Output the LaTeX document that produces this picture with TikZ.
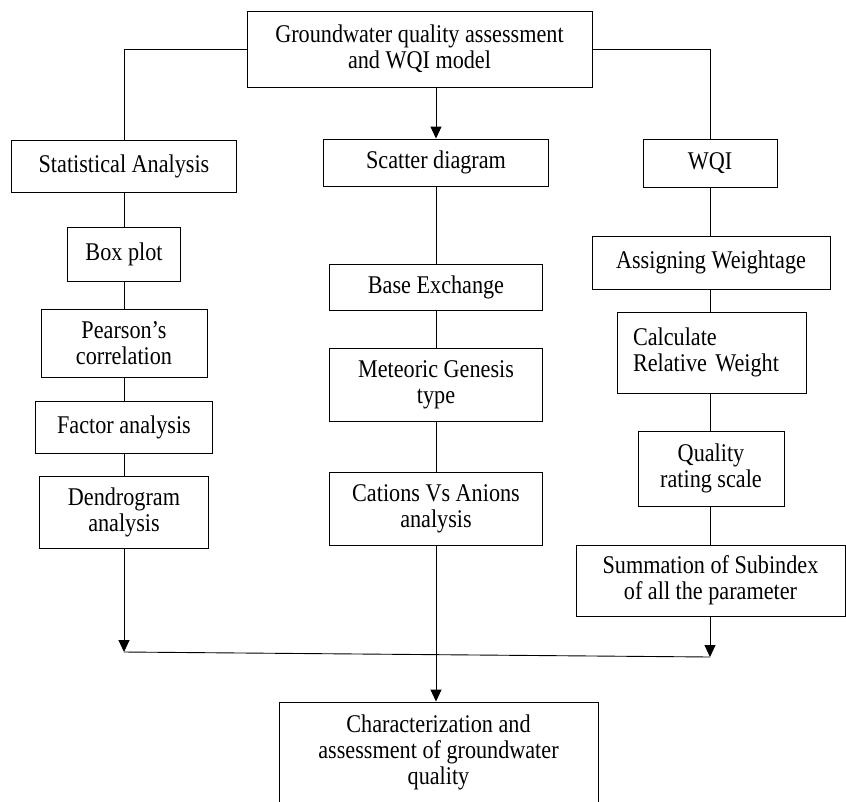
\documentclass[tikz,border=0pt]{standalone}
\usepackage{fontspec}
\setmainfont{Liberation Serif}[FakeStretch=0.87]
\usetikzlibrary{arrows.meta}
\begin{document}
\begin{tikzpicture}[x=1pt,y=-1pt,
  box/.style={draw,line width=0.9pt,inner sep=0pt,align=center,font=\fontsize{25.5}{26}\selectfont},
  conn/.style={line width=0.9pt},
  arr/.style={conn,-{Triangle[length=12pt,width=11pt]}}]
\useasboundingbox (0,0) rectangle (846,801);
\clip (0,0) rectangle (846,801);
% top
\node[box,minimum width=345pt,minimum height=76pt] (top) at (419.5,49) {Groundwater quality assessment\\and WQI model};
% left column
\node[box,minimum width=225pt,minimum height=52pt] (stat) at (124,166) {Statistical Analysis};
\node[box,minimum width=113pt,minimum height=54pt] (boxplot) at (124,254) {Box plot};
\node[box,minimum width=166pt,minimum height=68pt] (pearson) at (124,343) {Pearson’s\\correlation};
\node[box,minimum width=177pt,minimum height=52pt] (factor) at (124,427) {Factor analysis};
\node[box,minimum width=169pt,minimum height=72pt] (dendro) at (124,512) {Dendrogram\\analysis};
% centre column
\node[box,minimum width=225pt,minimum height=47pt] (scatter) at (436,162.5) {Scatter diagram};
\node[box,minimum width=213pt,minimum height=46pt] (base) at (436,287) {Base Exchange};
\node[box,minimum width=213pt,minimum height=73pt] (meteoric) at (436,384.5) {Meteoric Genesis\\type};
\node[box,minimum width=213pt,minimum height=73pt] (cations) at (436,508.5) {Cations Vs Anions\\analysis};
\node[box,minimum width=319pt,minimum height=101pt] (final) at (438.5,752.5) {Characterization and\\assessment of groundwater\\quality};
% right column
\node[box,minimum width=134pt,minimum height=48pt] (wqi) at (710,163) {WQI};
\node[box,minimum width=238pt,minimum height=53pt] (assign) at (711,262.5) {Assigning Weightage};
\node[box,minimum width=189pt,minimum height=81pt,align=left,text width=157pt] (calc) at (711.5,352.5) {Calculate\\Relative Weight};
\node[box,minimum width=146pt,minimum height=75pt] (quality) at (711,468.5) {Quality\\rating scale};
\node[box,minimum width=269pt,minimum height=71pt] (summ) at (710.5,580.5) {Summation of Subindex\\of all the parameter};
% connectors from top
\draw[conn] (top.west) -| (stat.north);
\draw[conn] (top.east) -| (wqi.north);
\draw[arr] (scatter.north |- top.south) -- (scatter.north);
% left chain
\draw[conn] (stat.south) -- (boxplot.north);
\draw[conn] (boxplot.south) -- (pearson.north);
\draw[conn] (pearson.south) -- (factor.north);
\draw[conn] (factor.south) -- (dendro.north);
% centre chain
\draw[conn] (scatter.south) -- (base.north);
\draw[conn] (base.south) -- (meteoric.north);
\draw[conn] (meteoric.south) -- (cations.north);
% right chain
\draw[conn] (wqi.south) -- (assign.north -| wqi.south);
\draw[conn] (assign.south -| wqi.south) -- (calc.north -| wqi.south);
\draw[conn] (calc.south -| wqi.south) -- (quality.north -| wqi.south);
\draw[conn] (quality.south -| wqi.south) -- (summ.north -| wqi.south);
% bottom
\coordinate (jl) at (124,652);
\coordinate (jr) at (710,657);
\draw[arr] (dendro.south) -- (jl);
\draw[arr] (summ.south -| jr) -- (jr);
\draw[conn] (jl) -- (jr);
\draw[arr] (cations.south) -- (final.north -| cations.south);
\end{tikzpicture}
\end{document}
